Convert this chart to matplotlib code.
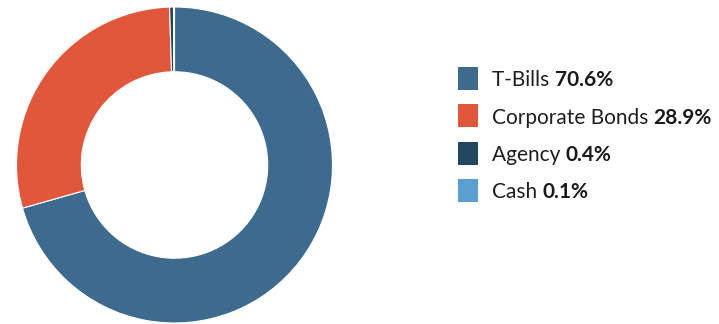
import matplotlib
matplotlib.use("Agg")
import matplotlib.pyplot as plt
from matplotlib.patches import Rectangle

categories = ["T-Bills", "Corporate Bonds", "Agency", "Cash"]
shares = [70.6, 28.9, 0.4, 0.1]
colors = ["#3e6a8e", "#e0573b", "#24475f", "#5b9fd1"]

W, H = 719, 324
fig = plt.figure(figsize=(W / 100, H / 100), dpi=100)
fig.patch.set_facecolor("white")

# donut
cx, cy, r = 174.5, 165.0, 158.0
ax = fig.add_axes([(cx - r) / W, (H - cy - r) / H, 2 * r / W, 2 * r / H])
ax.pie(shares, colors=colors, startangle=90, counterclock=False,
       radius=1.0, wedgeprops=dict(width=0.41, edgecolor="white", linewidth=0.8))
ax.set_xlim(-1, 1)
ax.set_ylim(-1, 1)
ax.set_aspect("equal")
ax.axis("off")

# legend
font = "Lato"
fs = 15
sq_x, sq_w, sq_h = 458, 20, 23
row_top = 67
row_gap = 37.3
text_x = 492
fig.canvas.draw()
renderer = fig.canvas.get_renderer()
for i, (name, val, col) in enumerate(zip(categories, shares, colors)):
    top = row_top + i * row_gap
    fig.add_artist(Rectangle((sq_x / W, 1 - (top + sq_h) / H), sq_w / W, sq_h / H,
                             transform=fig.transFigure, facecolor=col, edgecolor="none"))
    ymid = 1 - (top + sq_h / 2 + 2) / H
    t = fig.text(text_x / W, ymid, name + " ", fontsize=fs, family=font,
                 color="#1e1e1e", va="center", ha="left")
    bb = t.get_window_extent(renderer=renderer)
    fig.text(bb.x1 / W, ymid, f"{val}%", fontsize=fs, family=font,
             fontweight="bold", color="#1a1a1a", va="center", ha="left")

fig.savefig("out.png", dpi=100, facecolor="white")
